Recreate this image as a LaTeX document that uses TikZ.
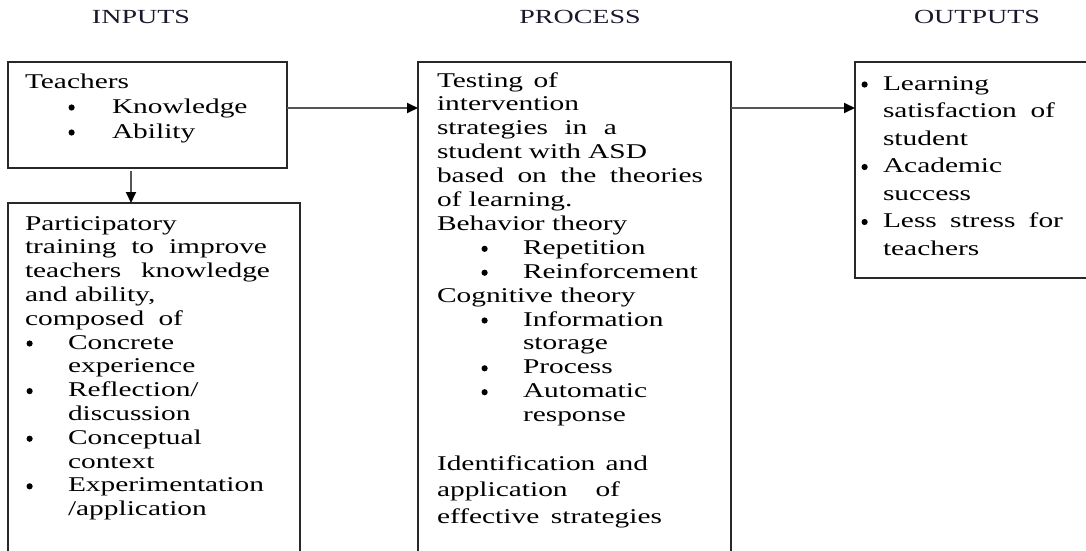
\documentclass[tikz,border=0pt]{standalone}
\usepackage{fontspec}
\setmainfont{Liberation Serif}[FakeStretch=1.4]
\usetikzlibrary{arrows.meta}
\newcommand{\bdot}{\hspace*{0.5pt}\tikz[baseline=-5.5pt]\fill (0,0) circle (3.1pt);}
\newcommand{\bl}[1]{\makebox[#1][l]{\bdot}}
\newcommand{\js}[2]{\makebox[#1][s]{#2}}
\definecolor{boxline}{RGB}{40,40,40}
\definecolor{connline}{RGB}{85,85,85}
\definecolor{titlecol}{RGB}{25,25,45}
\begin{document}
\begin{tikzpicture}[x=1pt,y=-1pt,
  box/.style={draw=boxline,line width=1.3pt,inner sep=0pt,outer sep=0pt,anchor=north west},
  txt/.style={inner sep=0pt,outer sep=0pt,anchor=north west,align=left},
  title/.style={inner sep=0pt,anchor=base,text=titlecol,font=\fontsize{20}{24}\selectfont},
  conn/.style={draw=connline,line width=1.8pt,-{Triangle[length=11pt,width=10pt,color=black]}}]
\useasboundingbox (0,0) rectangle (1086,550);
\fill[white] (0,0) rectangle (1086,550);

% titles
\node[title] (tin) at (141,23) {INPUTS};
\node[title] (tpr) at (580,23) {PROCESS};
\node[title] (tout) at (977,23) {OUTPUTS};

% boxes
\node[box,minimum width=279pt,minimum height=106pt] (b1) at (8,62) {};
\node[box,minimum width=292pt,minimum height=360pt] (b2) at (8,203) {};
\node[box,minimum width=313pt,minimum height=500pt] (b3) at (418,62) {};
\node[box,minimum width=250pt,minimum height=216pt] (b4) at (855,62) {};

% box 1 text
\node[txt,font=\fontsize{21}{25}\selectfont] (x1) at (25,72) {%
\rule{0pt}{16pt}Teachers\\
\hspace*{43pt}\bl{44pt}Knowledge\\
\hspace*{43pt}\bl{44pt}Ability};

% box 2 text
\node[txt,font=\fontsize{21}{23.8}\selectfont] (x2) at (25,214) {%
\rule{0pt}{16pt}Participatory\\
\js{242pt}{training to improve}\\
\js{245pt}{teachers knowledge}\\
and ability,\\
\js{158pt}{composed of}\\
\hspace*{1pt}\bl{42pt}Concrete\\
\hspace*{43pt}experience\\
\hspace*{1pt}\bl{42pt}Reflection/\\
\hspace*{43pt}discussion\\
\hspace*{1pt}\bl{42pt}Conceptual\\
\hspace*{43pt}context\\
\hspace*{1pt}\bl{42pt}Experimentation\\
\hspace*{43pt}/application};

% box 3 text
\node[txt,font=\fontsize{21}{23.9}\selectfont] (x3) at (437,71) {%
\rule{0pt}{16pt}\js{121pt}{Testing of}\\
intervention\\
\js{180pt}{strategies in a}\\
\js{210pt}{student with ASD}\\
\js{266pt}{based on the theories}\\
of learning.\\
Behavior theory\\
\hspace*{44pt}\bl{42pt}Repetition\\
\hspace*{44pt}\bl{42pt}Reinforcement\\
Cognitive theory\\
\hspace*{44pt}\bl{42pt}Information\\
\hspace*{86pt}storage\\
\hspace*{44pt}\bl{42pt}Process\\
\hspace*{44pt}\bl{42pt}Automatic\\
\hspace*{86pt}response};
\node[txt,font=\fontsize{21}{26.5}\selectfont] (x3b) at (437,454) {%
\rule{0pt}{16pt}\js{211pt}{Identification and}\\
\js{183pt}{application of}\\
\js{225pt}{effective strategies}};

% box 4 text
\node[txt,font=\fontsize{21}{27.5}\selectfont] (x4) at (861,74) {%
\rule{0pt}{16pt}\bl{22pt}Learning\\
\hspace*{22pt}\js{172pt}{satisfaction of}\\
\hspace*{22pt}student\\
\bl{22pt}Academic\\
\hspace*{22pt}success\\
\bl{22pt}\js{180pt}{Less stress for}\\
\hspace*{22pt}teachers};

% connectors
\draw[conn] ([yshift=7pt]b1.east) -- ([yshift=7pt]b1.east -| b3.west);
\draw[conn] ([xshift=-16.5pt,yshift=-3pt]b1.south) -- ([xshift=-23pt]b2.north);
\draw[conn] ([yshift=-46pt]b3.north east) -- ([yshift=-46pt]b3.north east -| b4.west);
\end{tikzpicture}
\end{document}
